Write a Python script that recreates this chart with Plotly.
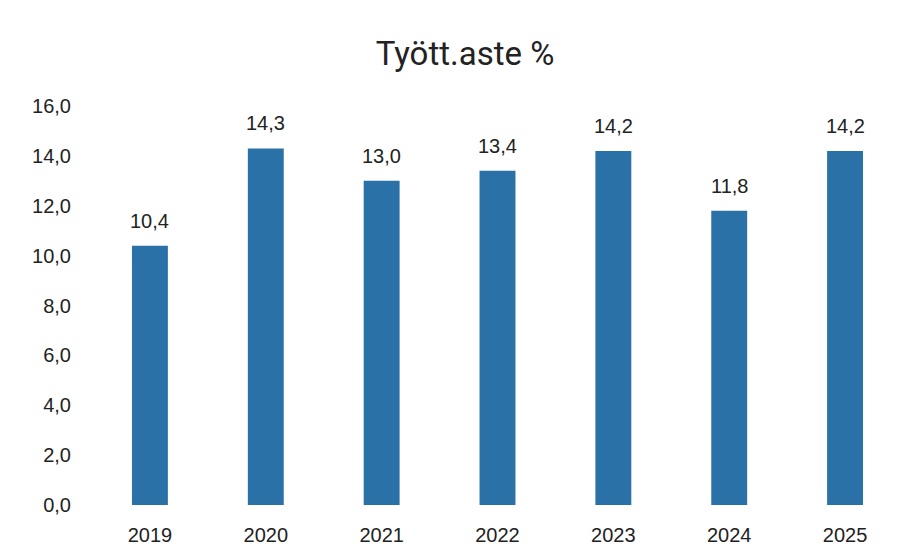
import plotly.graph_objects as go

years = ["2019", "2020", "2021", "2022", "2023", "2024", "2025"]
rates = [10.4, 14.3, 13.0, 13.4, 14.2, 11.8, 14.2]
labels = ["10,4", "14,3", "13,0", "13,4", "14,2", "11,8", "14,2"]

FONT = "Liberation Sans, Arial, sans-serif"

fig = go.Figure(go.Bar(
    x=years, y=rates,
    marker=dict(color="#2a71a7", line=dict(width=0)),
    hoverinfo="skip",
))

# category axis: annotation x given as the category index of each year
for i, (v, lab) in enumerate(zip(rates, labels)):
    fig.add_annotation(x=i, y=v, xref="x", yref="y", text=lab, showarrow=False,
                       yanchor="bottom", yshift=12,
                       font=dict(size=20, color="#222222", family=FONT))

fig.update_layout(
    width=914, height=540,
    paper_bgcolor="white", plot_bgcolor="white",
    margin=dict(l=84, r=19, t=98, b=43),
    bargap=0.69,
    showlegend=False,
    separators=",.",
    title=dict(text="Tyött.aste %", x=0.5, xanchor="center", y=0.915, yanchor="middle",
               font=dict(size=33, color="#222222", family="Roboto, sans-serif")),
    xaxis=dict(type="category", categoryorder="array", categoryarray=years,
               showgrid=False, showline=False, ticks="", ticklabelstandoff=16,
               automargin=False,
               tickfont=dict(size=20, color="#222222", family=FONT)),
    yaxis=dict(range=[0, 16], dtick=2, tickformat=".1f", showgrid=False, zeroline=False, showline=False,
               ticks="", ticklabelstandoff=20, automargin=False,
               tickfont=dict(size=20, color="#222222", family=FONT)),
)

fig.write_html("out.html")
